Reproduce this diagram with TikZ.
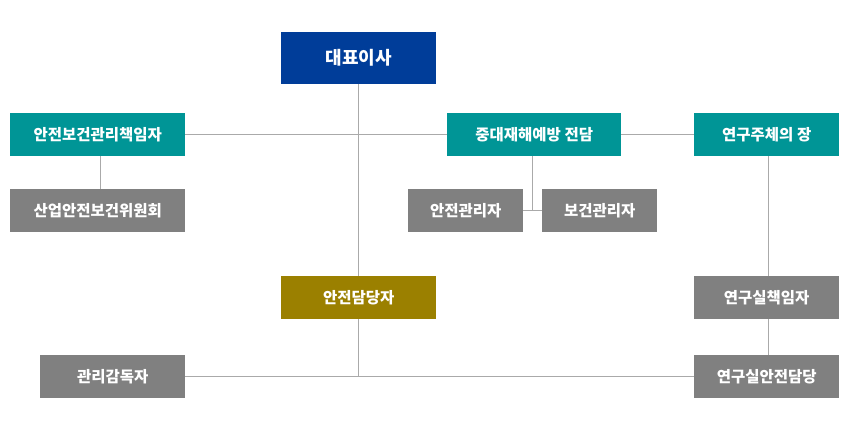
\documentclass[tikz,border=0pt]{standalone}
\usepackage{fontspec}
\setmainfont{Noto Sans CJK KR}
\newfontfamily\krfont{Noto Sans CJK KR}
\definecolor{ceoblue}{RGB}{0,61,153}
\definecolor{tealbox}{RGB}{0,149,150}
\definecolor{olivebox}{RGB}{155,128,0}
\definecolor{graybox}{RGB}{128,128,128}
\definecolor{linegray}{RGB}{170,170,170}
\tikzset{
  box/.style={draw=none, text=white, inner sep=0pt, anchor=north west,
    font=\krfont\bfseries\fontsize{15.5}{18}\selectfont},
  conn/.style={draw=linegray, line width=1pt},
}
\begin{document}
\begin{tikzpicture}[x=1pt,y=-1pt]
\useasboundingbox (0,0) rectangle (850,430);
\node[box, fill=ceoblue, minimum width=155, minimum height=52, font=\krfont\bfseries\fontsize{18}{20}\selectfont] (ceo) at (281,32) {대표이사};
\node[box, fill=tealbox, minimum width=175, minimum height=43] (ansb) at (10,113) {안전보건관리책임자};
\node[box, fill=tealbox, minimum width=174, minimum height=43] (jung) at (447,113) {중대재해예방 전담};
\node[box, fill=tealbox, minimum width=145, minimum height=43] (yeon) at (694,113) {연구주체의 장};
\node[box, fill=graybox, minimum width=175, minimum height=43] (sanup) at (10,189) {산업안전보건위원회};
\node[box, fill=graybox, minimum width=115, minimum height=43] (angw) at (408,189) {안전관리자};
\node[box, fill=graybox, minimum width=115, minimum height=43] (bogw) at (542,189) {보건관리자};
\node[box, fill=olivebox, minimum width=155, minimum height=43] (andam) at (281,276) {안전담당자};
\node[box, fill=graybox, minimum width=145, minimum height=43] (yschk) at (694,276) {연구실책임자};
\node[box, fill=graybox, minimum width=145, minimum height=43] (gwgd) at (40,355) {관리감독자};
\node[box, fill=graybox, minimum width=145, minimum height=43] (ysad) at (694,355) {연구실안전담당};
\coordinate (sj) at (532.5,210.5);
\coordinate (lx) at (100,0);
\coordinate (rx) at (768,0);
\draw[conn] (ceo.south) -- (ceo.south |- andam.north);
\draw[conn] (andam.south) -- (andam.south |- gwgd.east);
\draw[conn] (ansb.east) -- (jung.west);
\draw[conn] (jung.east) -- (yeon.west);
\draw[conn] (ansb.south -| lx) -- (sanup.north -| lx);
\draw[conn] (jung.south -| sj) -- (sj);
\draw[conn] (angw.east) -- (bogw.west);
\draw[conn] (yeon.south -| rx) -- (yschk.north -| rx);
\draw[conn] (yschk.south -| rx) -- (ysad.north -| rx);
\draw[conn] (gwgd.east) -- (ysad.west);
\end{tikzpicture}
\end{document}
